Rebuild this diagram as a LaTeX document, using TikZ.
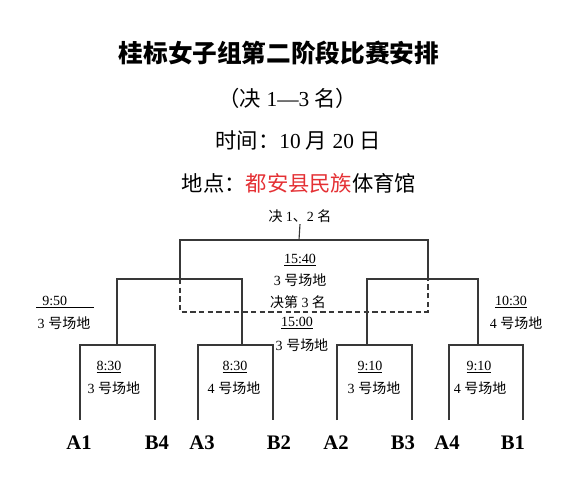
\documentclass[tikz,border=0pt]{standalone}
\usepackage{fontspec}
\setmainfont{Liberation Serif}
\newfontfamily\cjk{Noto Sans CJK SC}
\newcommand\zh[1]{{\cjk #1}}
\newcommand\field[1]{#1 \zh{号场地}}
\definecolor{placered}{RGB}{228,48,52}
\tikzset{
  line/.style={draw=black!78,line width=0.85pt},
  third/.style={line,dash pattern=on 4pt off 2.5pt},
  slot/.style={font=\fontsize{10.5}{12}\selectfont,inner sep=1pt},
  team/.style={font=\fontsize{15.5}{18}\selectfont\bfseries,inner sep=1pt,anchor=base},
  head/.style={font=\fontsize{16}{18}\selectfont,inner sep=1pt}
}
\begin{document}
\begin{tikzpicture}[x=0.75pt,y=-0.75pt]
  \useasboundingbox (0,0) rectangle (562,500);
  \node[font=\fontsize{18.5}{20}\selectfont\bfseries] (title) at (279,53) {\zh{桂标女子组第二阶段比赛安排}};
  \node[head] (stage) at (288,98) {\zh{（决} 1—3 \zh{名）}};
  \node[head] (date) at (298,140) {\zh{时间：}10 \zh{月} 20 \zh{日}};
  \node[head] (place) at (299,183) {\zh{地点：\textcolor{placered}{都安县民族}体育馆}};

  \node[team] (tA1) at (79,449) {A1};
  \node[team] (tB4) at (157,449) {B4};
  \node[team] (tA3) at (202,449) {A3};
  \node[team] (tB2) at (279,449) {B2};
  \node[team] (tA2) at (336,449) {A2};
  \node[team] (tB3) at (403,449) {B3};
  \node[team] (tA4) at (447,449) {A4};
  \node[team] (tB1) at (513,449) {B1};

  \coordinate (fA1) at (80,420);
  \coordinate (fB4) at (155,420);
  \coordinate (fA3) at (198,420);
  \coordinate (fB2) at (273,420);
  \coordinate (fA2) at (337,420);
  \coordinate (fB3) at (412,420);
  \coordinate (fA4) at (449,420);
  \coordinate (fB1) at (523,420);
  \coordinate (m1) at (117,345);
  \coordinate (m2) at (242,345);
  \coordinate (m3) at (367,345);
  \coordinate (m4) at (478,345);
  \coordinate (q1) at (180,279);
  \coordinate (q2) at (428,279);
  \coordinate (top) at (299,240);

  \draw[line] (fA1) |- (m1) -| (fB4);
  \draw[line] (fA3) |- (m2) -| (fB2);
  \draw[line] (fA2) |- (m3) -| (fB3);
  \draw[line] (fA4) |- (m4) -| (fB1);
  \draw[line] (m1) |- (q1) -| (m2);
  \draw[line] (m3) |- (q2) -| (m4);
  \draw[line] (q1) |- (top) -| (q2);
  \draw[third] (q1) -- ++(0,33) -| (q2);

  \node[slot] (champ) at (300,216) {\zh{决} 1\zh{、}2 \zh{名}};
  \draw[line] (top) -- (champ.south);

  \node[slot] (finaltime) at (300,260) {\underline{15:40}};
  \node[slot] (finalfield) at (300,280) {\field{3}};
  \node[slot] (thirdname) at (298,302) {\zh{决第} 3 \zh{名}};
  \node[slot] (thirdtime) at (297,323) {\underline{15:00}};
  \node[slot] (thirdfield) at (302,345) {\field{3}};

  \node[slot] (semiltime) at (65,302) {\underline{\makebox[43pt][l]{\hspace{4.5pt}9:50}}};
  \node[slot] (semilfield) at (64,323) {\field{3}};
  \node[slot] (semirtime) at (511,302) {\underline{10:30}};
  \node[slot] (semirfield) at (516,323) {\field{4}};

  \node[slot] (g1time) at (109,367) {\underline{8:30}};
  \node[slot] (g1field) at (114,388) {\field{3}};
  \node[slot] (g2time) at (235,367) {\underline{8:30}};
  \node[slot] (g2field) at (234,388) {\field{4}};
  \node[slot] (g3time) at (370,367) {\underline{9:10}};
  \node[slot] (g3field) at (374,388) {\field{3}};
  \node[slot] (g4time) at (479,367) {\underline{9:10}};
  \node[slot] (g4field) at (480,388) {\field{4}};
\end{tikzpicture}
\end{document}
